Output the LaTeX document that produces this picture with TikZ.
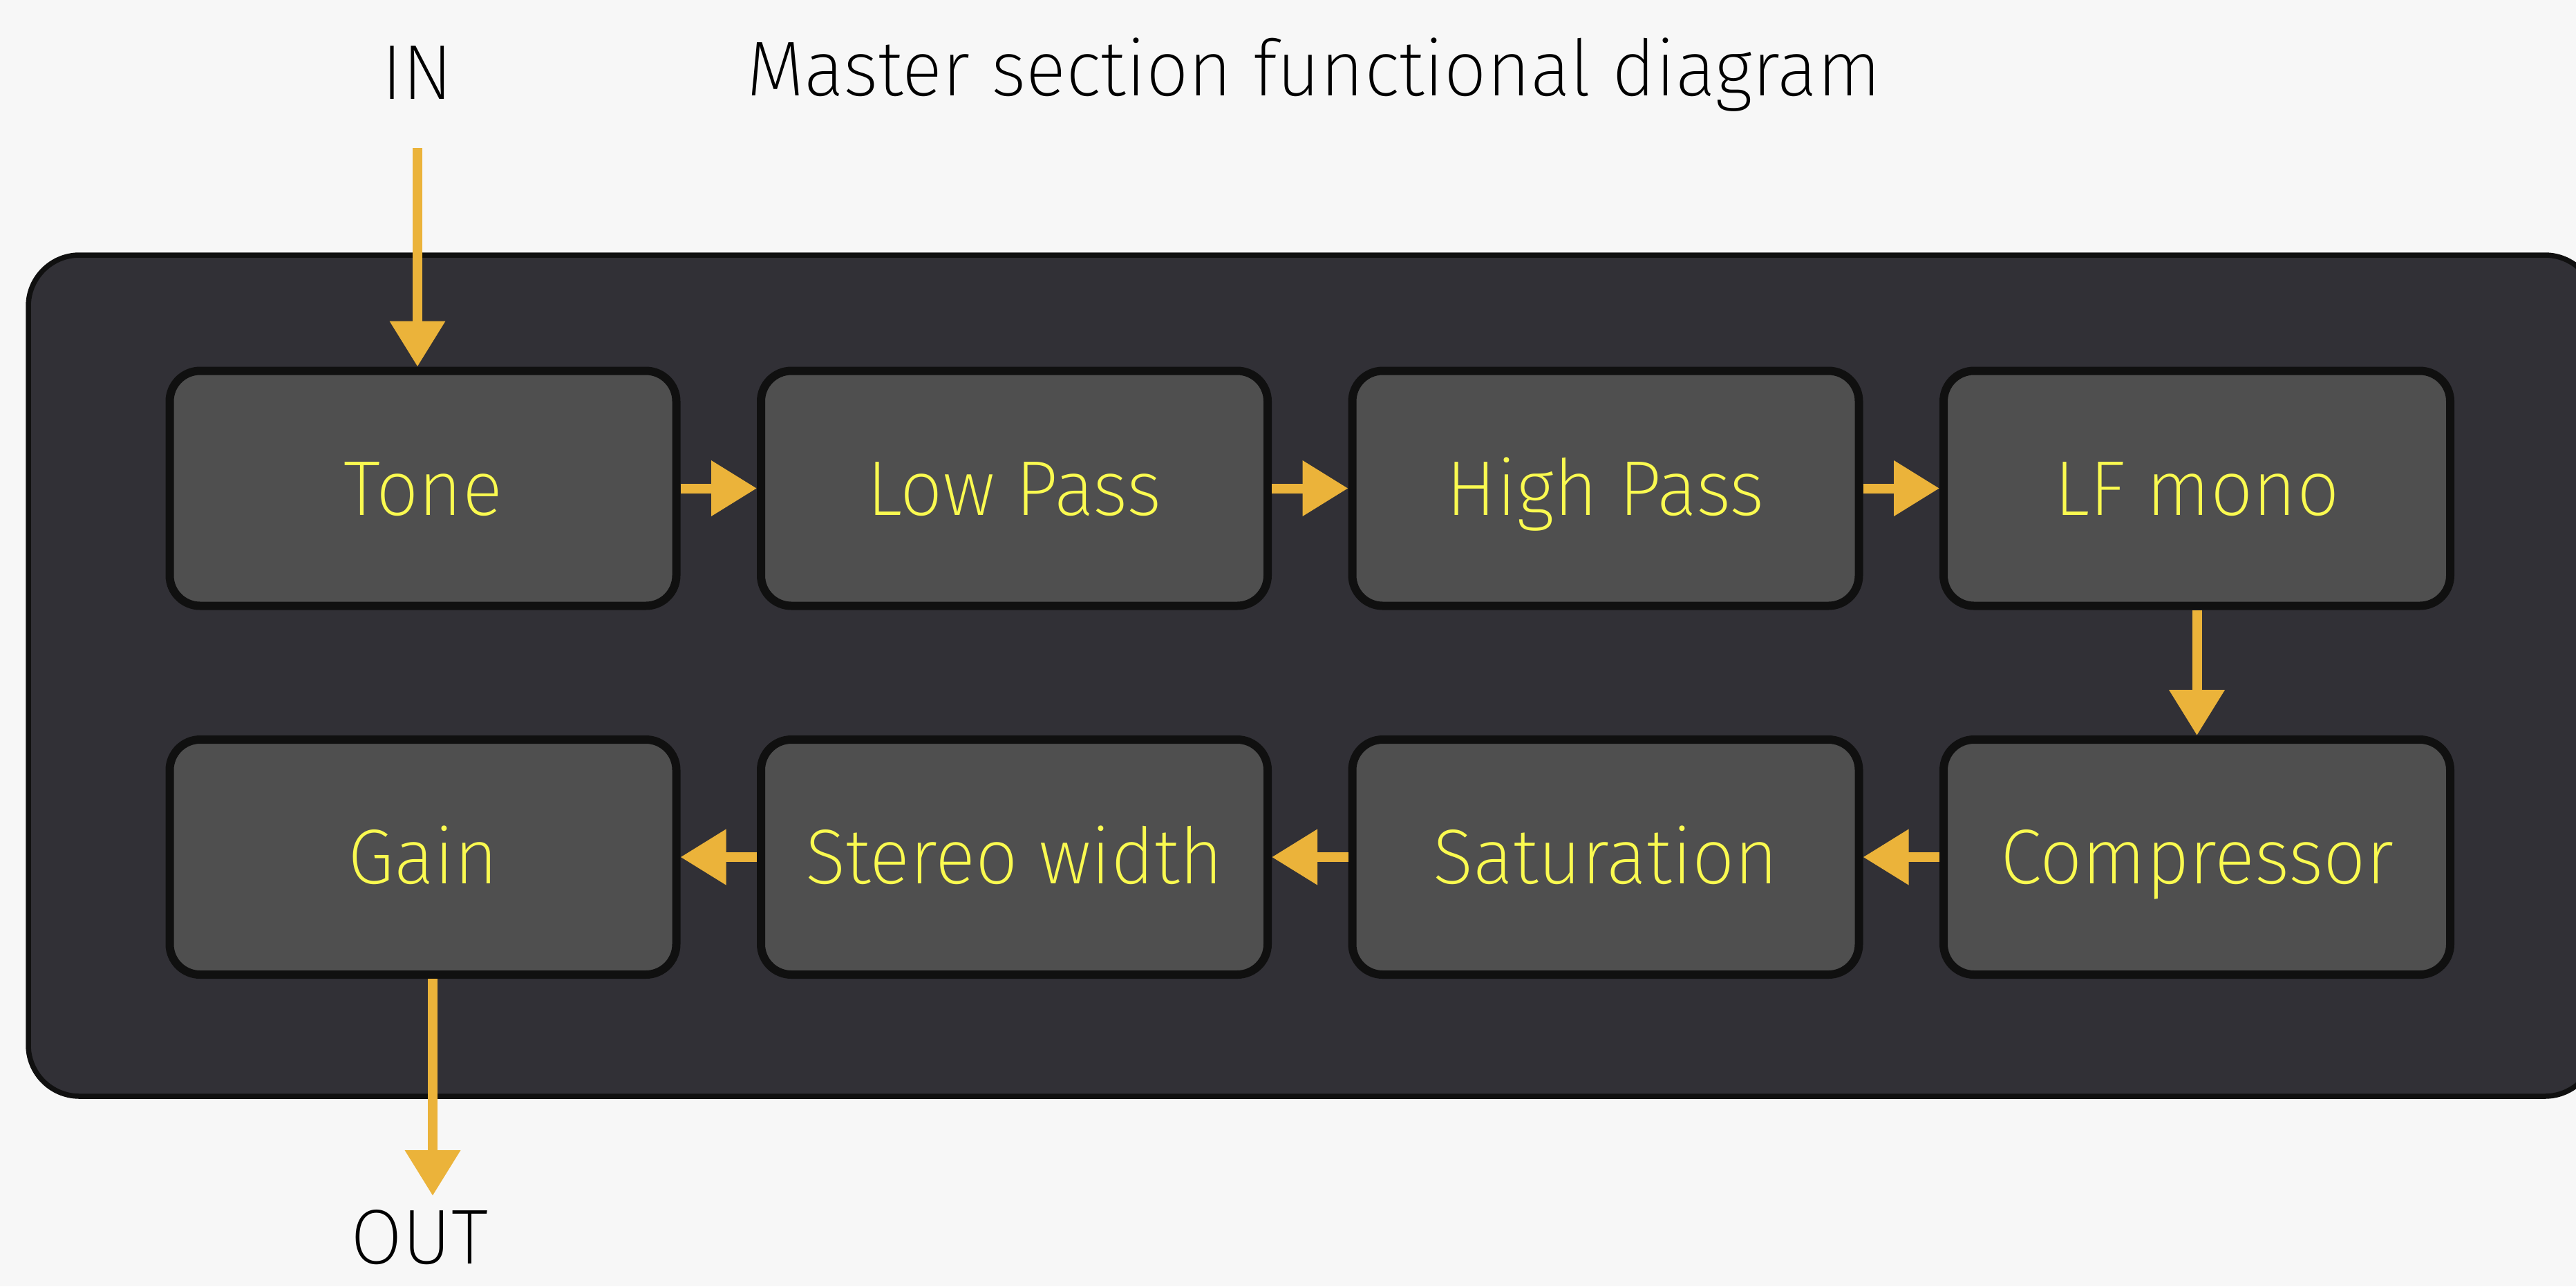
\documentclass[tikz,border=0pt]{standalone}
\usepackage{fontspec}
\IfFontExistsTF{Fira Sans ExtraLight}{\setmainfont{Fira Sans ExtraLight}[FakeStretch=0.965]}{\setmainfont{Fira Sans}}
\usetikzlibrary{arrows.meta}
\definecolor{bg}{HTML}{F7F7F7}
\definecolor{panelfill}{HTML}{313036}
\definecolor{boxfill}{HTML}{4F4F4F}
\definecolor{edge}{HTML}{101010}
\definecolor{arrowc}{HTML}{EBB33A}
\definecolor{label}{HTML}{FAFA50}
\begin{document}
\begin{tikzpicture}[
  panel/.style={draw=edge, fill=panelfill, line width=0.075cm, rounded corners=0.74cm,
    minimum width=37.15cm, minimum height=12.17cm, inner sep=0pt},
  stage/.style={draw=edge, fill=boxfill, line width=0.12cm, rounded corners=0.44cm,
    minimum width=7.33cm, minimum height=3.40cm, inner sep=0pt, text=label,
    font=\fontsize{32}{38}\selectfont, text height=22pt, text depth=0pt},
  plain/.style={text=black, font=\fontsize{32}{38}\selectfont, inner sep=0pt},
  flow/.style={draw=arrowc, line width=0.14cm, -{Triangle[length=0.66cm,width=0.77cm]}}
]
\fill[bg] (0,0) rectangle (37.27,-18.61);
\useasboundingbox (0,0) rectangle (37.27,-18.61);
\begin{scope}
\clip (0,0) rectangle (37.27,-18.61);
\node[panel] (panel) at (18.985,-9.775) {};
\end{scope}

\node[plain, anchor=base] (title) at (19.01,-1.38) {Master section functional diagram};
\node[plain, anchor=base] (inlabel) at (6.04,-1.43) {IN};
\node[plain, anchor=base] (outlabel) at (6.07,-18.28) {OUT};

\node[stage] (tone) at (6.12,-7.065) {Tone};
\node[stage] (lowpass) at (14.675,-7.065) {Low Pass};
\node[stage] (highpass) at (23.23,-7.065) {High Pass};
\node[stage] (lfmono) at (31.785,-7.065) {LF mono};
\node[stage] (gain) at (6.12,-12.40) {Gain};
\node[stage] (stereo) at (14.675,-12.40) {Stereo width};
\node[stage] (saturation) at (23.23,-12.40) {Saturation};
\node[stage] (compressor) at (31.785,-12.40) {Compressor};

\coordinate (instart) at (6.04,-2.14);
\coordinate (outend) at (6.26,-17.30);
\draw[flow] (instart) -- (instart |- tone.north);
\draw[flow] (tone) -- (lowpass);
\draw[flow] (lowpass) -- (highpass);
\draw[flow] (highpass) -- (lfmono);
\draw[flow] (lfmono) -- (compressor);
\draw[flow] (compressor) -- (saturation);
\draw[flow] (saturation) -- (stereo);
\draw[flow] (stereo) -- (gain);
\draw[flow] (gain.south -| outend) -- (outend);
\end{tikzpicture}
\end{document}
